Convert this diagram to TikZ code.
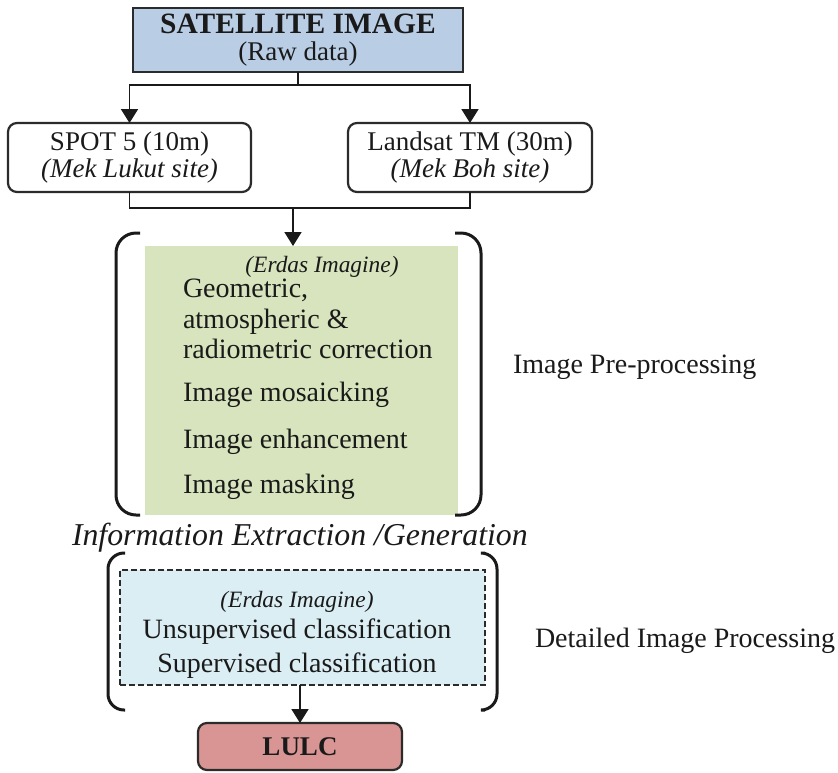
\documentclass[tikz,border=0pt]{standalone}
\usepackage{fontspec}
\setmainfont{Liberation Serif}
\usetikzlibrary{arrows.meta}
\definecolor{satfill}{HTML}{B9CDE5}
\definecolor{greenfill}{HTML}{D7E4BD}
\definecolor{bluefill}{HTML}{DBEEF4}
\definecolor{redfill}{HTML}{D99594}
\definecolor{ink}{HTML}{1A1A1A}
\definecolor{edge}{HTML}{2B2B2B}
\begin{document}
\begin{tikzpicture}[x=1pt,y=-1pt,
  every node/.style={text=ink, inner sep=0pt, outer sep=0pt},
  box/.style={draw=edge, line width=2.2pt, align=center, font=\fontsize{27}{27}\selectfont},
  txt/.style={font=\fontsize{28}{28}\selectfont},
  ital/.style={font=\fontsize{23.4}{23.4}\selectfont\itshape},
  conn/.style={draw=ink, line width=1.8pt},
  arr/.style={conn, -{Triangle[width=17pt,length=14pt]}},
  brk/.style={draw=ink, line width=3pt, rounded corners=20pt},
]
\useasboundingbox (0,0) rectangle (838,772);
\fill[white] (0,0) rectangle (838,772);

% boxes
\node[box, fill=satfill, minimum width=330pt, minimum height=64pt] (sat) at (298,40)
  {{\fontsize{29.5}{27}\selectfont\bfseries SATELLITE IMAGE}\\(Raw data)};
\node[box, fill=white, rounded corners=9pt, minimum width=243pt, minimum height=69pt] (spot) at (129.5,157.5)
  {SPOT 5 (10m)\\\textit{(Mek Lukut site)}};
\node[box, fill=white, rounded corners=9pt, minimum width=244pt, minimum height=69pt] (landsat) at (470,157.5)
  {Landsat TM (30m)\\\textit{(Mek Boh site)}};
\node[fill=greenfill, minimum width=313pt, minimum height=269pt] (pre) at (301.5,380.5) {};
\node[draw=edge, fill=bluefill, line width=1.5pt, dash pattern=on 6pt off 3pt, minimum width=365pt, minimum height=115pt] (cls) at (302.5,627.5) {};
\node[box, fill=redfill, rounded corners=9pt, minimum width=204pt, minimum height=47pt] (lulc) at (300,746.5)
  {\textbf{LULC}};

% texts in the green box
\node[ital, anchor=base] (e1) at (322,272) {(Erdas Imagine)};
\node[txt, anchor=base west] (g1) at (183,297) {Geometric,};
\node[txt, anchor=base west] (g2) at (183,328) {atmospheric \&};
\node[txt, anchor=base west] (g3) at (183,358) {radiometric correction};
\node[txt, anchor=base west] (g4) at (183,401) {Image mosaicking};
\node[txt, anchor=base west] (g5) at (183,448) {Image enhancement};
\node[txt, anchor=base west] (g6) at (183,493) {Image masking};

% texts in the dashed box
\node[ital, anchor=base] (e2) at (297,607) {(Erdas Imagine)};
\node[txt, anchor=base] (c1) at (297,638) {Unsupervised classification};
\node[txt, anchor=base] (c2) at (297,672) {Supervised classification};

% side labels
\node[txt, anchor=base west] (lab1) at (513,373) {Image Pre-processing};
\node[txt, anchor=base west] (lab2) at (535,647) {Detailed Image Processing};
\node[anchor=base west, font=\fontsize{31.8}{31.8}\selectfont\itshape] (lab3) at (72,545) {Information Extraction /Generation};

% connectors
\draw[conn] (sat.south) -- (sat.south |- 0,85) coordinate (split);
\draw[arr] (split) -| (spot.north);
\draw[arr] (split) -| (landsat.north);
\draw[conn] (spot.south) -- ++(0,16) coordinate (jl) -| (landsat.south);
\coordinate (merge) at (293,208);
\draw[arr] (merge) -- (merge |- pre.north);
\draw[arr] (lulc.north |- cls.south) -- (lulc.north);

% brackets
\draw[brk] (140,233) -- (116,233) -- (116,515) -- (140,515);
\draw[brk] (455,233) -- (481,233) -- (481,515) -- (455,515);
\draw[brk, rounded corners=16pt] (125,553) -- (108,553) -- (108,710) -- (125,710);
\draw[brk, rounded corners=16pt] (485,553) -- (497,553) -- (497,710) -- (485,710);
\end{tikzpicture}
\end{document}
